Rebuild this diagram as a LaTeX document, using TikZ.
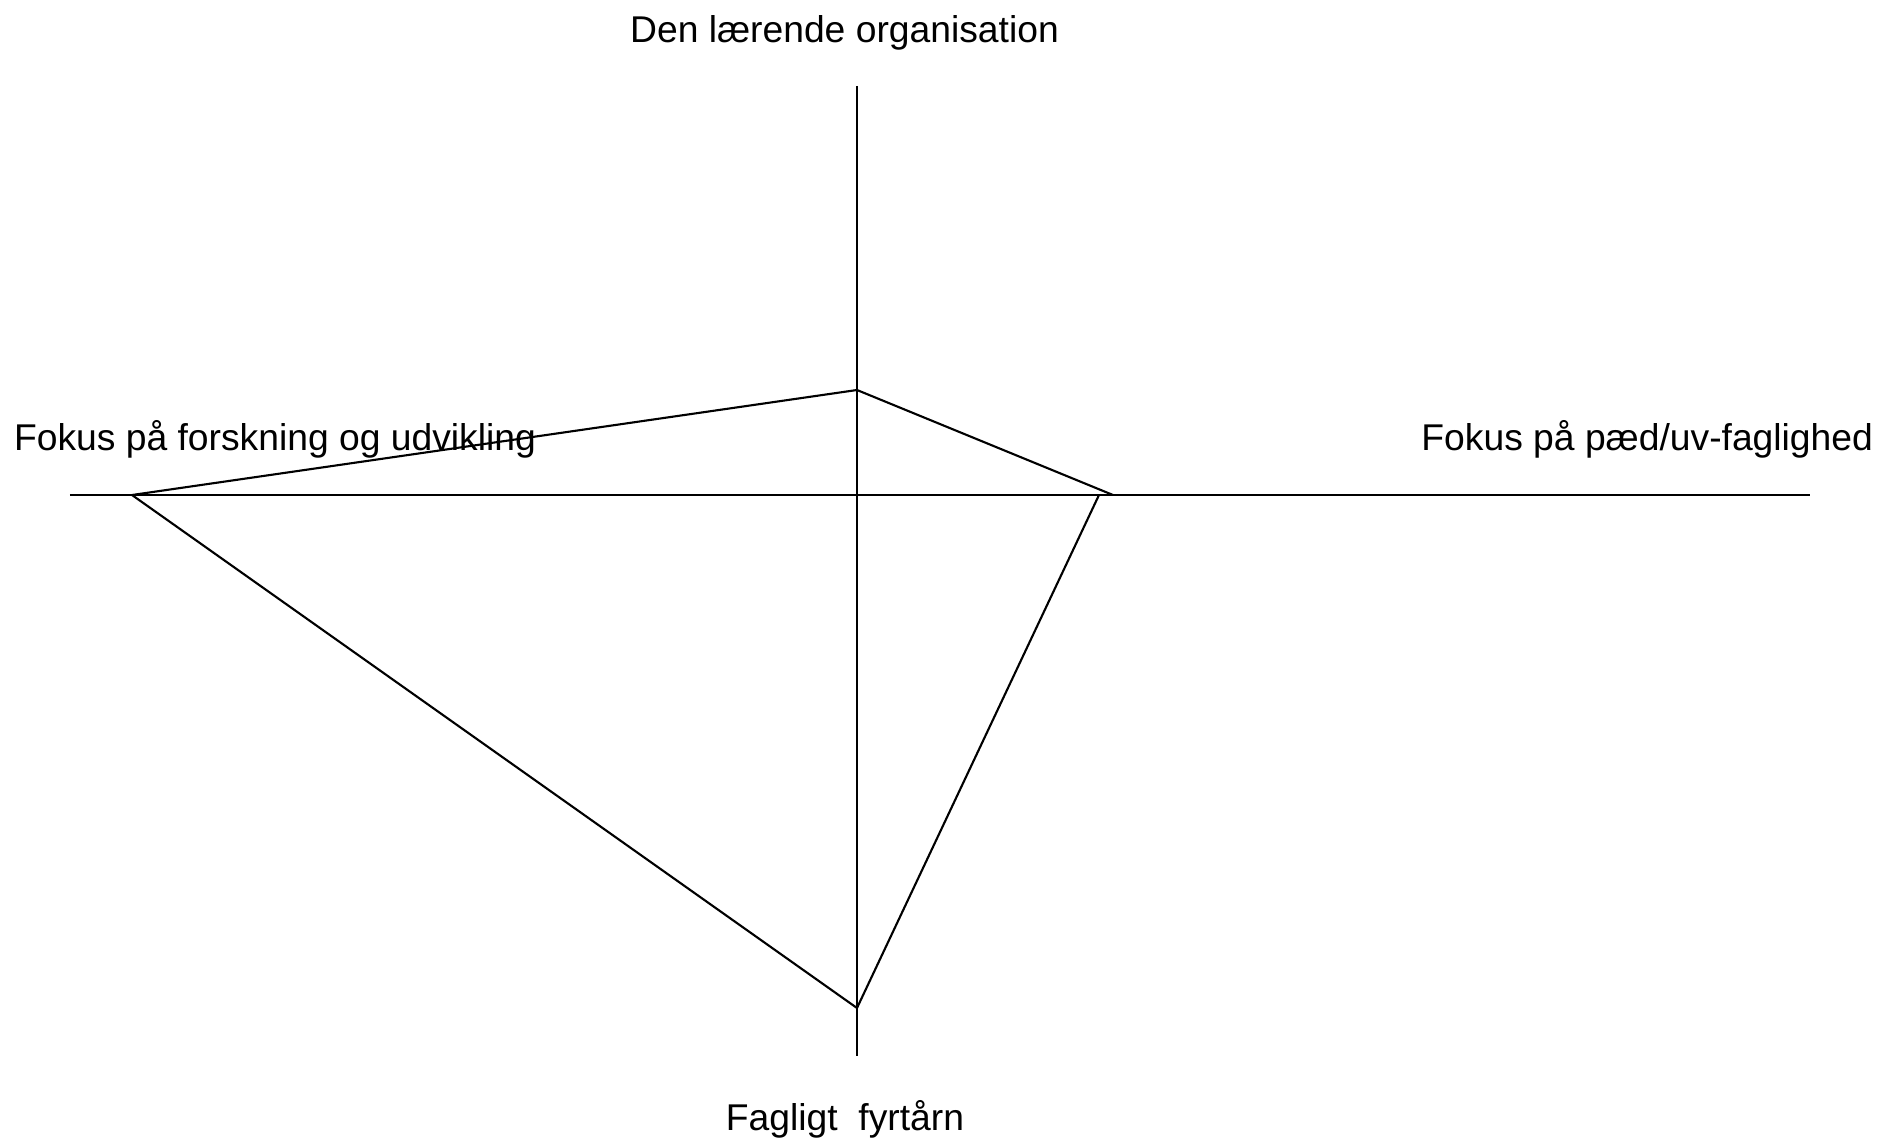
\documentclass[tikz,border=0pt]{standalone}
\usepackage{fontspec}
\setmainfont{Liberation Sans}
\usepackage{tikz}

\begin{document}
\begin{tikzpicture}[line width=0.6pt, every node/.style={inner sep=0pt, font=\fontsize{10.6}{12}\selectfont}]
    \useasboundingbox (-8.57,-6.45) rectangle (10.22,4.95);
    \coordinate (N) at (0,4.09);
    \coordinate (S) at (0,-5.61);
    \coordinate (W) at (-7.87,0);
    \coordinate (E) at (9.53,0);
    \coordinate (top) at (0,1.05);
    \coordinate (right) at (2.56,0);
    \coordinate (rightb) at (2.42,0);
    \coordinate (left) at (-7.25,0);
    \coordinate (bottom) at (0,-5.13);
    \draw (N) to (S);
    \draw (W) to (E);
    \draw (left) to (top) to (right);
    \draw (left) to (bottom) to (rightb);
    \node[anchor=base] (org) at (-0.125,4.523) {Den lærende organisation};
    \node[anchor=base west] (forsk) at (-8.44,0.45) {Fokus på forskning og udvikling};
    \node[anchor=base east] (paed) at (10.17,0.45) {Fokus på pæd/uv-faglighed};
    \node[anchor=base] (fyr) at (-0.12,-6.35) {Fagligt\ \ fyrtårn};
\end{tikzpicture}
\end{document}
